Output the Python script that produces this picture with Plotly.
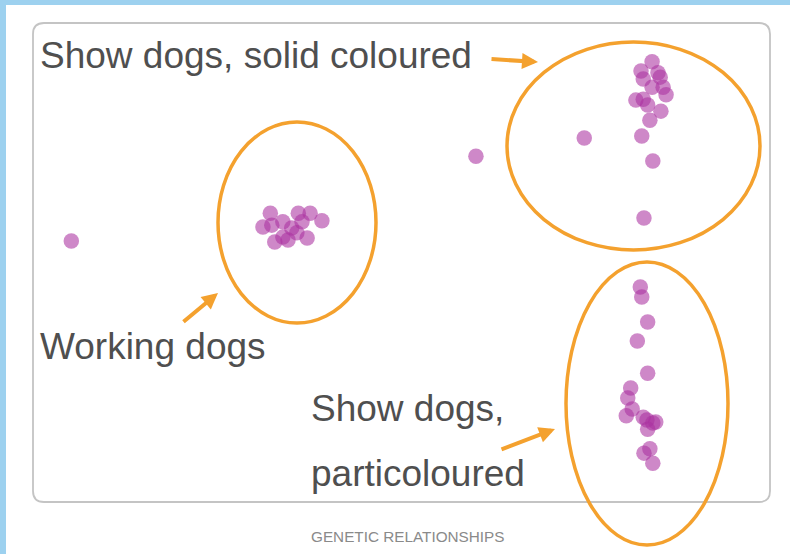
import plotly.graph_objects as go

# positions on the two "genetic" axes, 0-100 inside the framed box
outlier_x = [5.2, 60.1]
outlier_y = [54.5, 72.2]

working_x = [32.2, 31.2, 32.4, 33.9, 36.0, 37.6, 39.2, 36.5, 35.1, 34.6, 33.9, 32.8, 37.2, 35.8]
working_y = [60.3, 57.4, 57.8, 58.5, 60.3, 60.3, 58.7, 58.5, 57.2, 54.7, 55.3, 54.3, 55.1, 56.2]

solid_x = [84.0, 82.5, 84.8, 82.8, 85.1, 84.0, 85.5, 85.9, 81.8, 82.8, 83.4, 85.2, 83.7, 82.6,
           74.8, 84.1, 82.9]
solid_y = [91.9, 90.0, 89.6, 88.3, 88.7, 86.6, 86.6, 85.0, 83.9, 84.1, 82.9, 81.6, 79.7, 76.4,
           76.0, 71.2, 59.3]

parti_x = [82.4, 82.6, 83.4, 82.0, 83.4, 81.1, 80.7, 81.3, 80.5, 82.8, 83.3, 84.5, 84.1, 83.4,
           83.7, 82.9, 84.1]
parti_y = [44.9, 42.8, 37.6, 33.6, 26.9, 23.8, 21.7, 19.4, 18.0, 17.7, 17.1, 16.7, 16.5, 15.2,
           11.1, 10.2, 8.1]

W, H = 790, 554
ORANGE = "#f4a12e"
TEXT = "#4f4f4f"
FONT = "Liberation Sans, Arial, sans-serif"


def px(x, y):
    # pixel position -> paper coordinates
    return x / W, 1 - y / H


def rounded_rect(x0, y0, x1, y1, r):
    pts = []
    a = px(x0 + r, y0); pts.append(f"M{a[0]},{a[1]}")
    a = px(x1 - r, y0); pts.append(f"L{a[0]},{a[1]}")
    c = px(x1, y0); e = px(x1, y0 + r); pts.append(f"Q{c[0]},{c[1]} {e[0]},{e[1]}")
    a = px(x1, y1 - r); pts.append(f"L{a[0]},{a[1]}")
    c = px(x1, y1); e = px(x1 - r, y1); pts.append(f"Q{c[0]},{c[1]} {e[0]},{e[1]}")
    a = px(x0 + r, y1); pts.append(f"L{a[0]},{a[1]}")
    c = px(x0, y1); e = px(x0, y1 - r); pts.append(f"Q{c[0]},{c[1]} {e[0]},{e[1]}")
    a = px(x0, y0 + r); pts.append(f"L{a[0]},{a[1]}")
    c = px(x0, y0); e = px(x0 + r, y0); pts.append(f"Q{c[0]},{c[1]} {e[0]},{e[1]}")
    return " ".join(pts) + " Z"


def ellipse(x0, y0, x1, y1):
    a = px(x0, y1)
    b = px(x1, y0)
    return dict(type="circle", xref="paper", yref="paper",
                x0=a[0], y0=a[1], x1=b[0], y1=b[1],
                line=dict(color=ORANGE, width=3.5), layer="above")


all_x = outlier_x + working_x + solid_x + parti_x
all_y = outlier_y + working_y + solid_y + parti_y

fig = go.Figure()
fig.add_trace(
    go.Scatter(
        x=all_x,
        y=all_y,
        mode="markers",
        marker=dict(size=15.5, color="rgb(170,50,160)", opacity=0.58, line=dict(width=0)),
        hoverinfo="skip",
        showlegend=False,
    )
)

shapes = [
    dict(type="rect", xref="paper", yref="paper", x0=0, x1=1, y0=px(0, 5)[1], y1=1,
         fillcolor="#9dd1ef", line=dict(width=0), layer="below"),
    dict(type="rect", xref="paper", yref="paper", x0=0, x1=px(6, 0)[0], y0=0, y1=1,
         fillcolor="#9dd1ef", line=dict(width=0), layer="below"),
    dict(type="path", xref="paper", yref="paper", path=rounded_rect(33, 23, 770, 502, 11),
         line=dict(color="#c4c4c4", width=1.8), layer="below"),
    ellipse(507, 42, 760, 250),
    ellipse(218, 122, 376, 323),
    ellipse(566, 262, 728, 545),
]

annotations = []
for text, x, y in [
    ("Show dogs, solid coloured", 38, 56),
    ("Working dogs", 38, 346),
    ("Show dogs,", 309, 408),
    ("particoloured", 309, 473),
]:
    p = px(x, y)
    annotations.append(dict(text=text, x=p[0], y=p[1], xref="paper", yref="paper",
                            xanchor="left", yanchor="middle", showarrow=False,
                            font=dict(family=FONT, size=37, color=TEXT)))

for head, tail in [((538, 62), (490, 59)), ((218, 293), (182, 323)), ((555, 429), (500, 450))]:
    p = px(*head)
    annotations.append(dict(text="", x=p[0], y=p[1], xref="paper", yref="paper",
                            ax=tail[0] - head[0], ay=tail[1] - head[1],
                            showarrow=True, arrowhead=2, arrowsize=0.8, arrowwidth=4,
                            arrowcolor=ORANGE))

p = px(408, 536)
annotations.append(dict(text="GENETIC RELATIONSHIPS", x=p[0], y=p[1], xref="paper", yref="paper",
                        xanchor="center", yanchor="middle", showarrow=False,
                        font=dict(family=FONT, size=15.3, color="#8a8a8a")))

fig.update_layout(
    width=W,
    height=H,
    margin=dict(l=0, r=0, t=0, b=0),
    paper_bgcolor="white",
    plot_bgcolor="rgba(0,0,0,0)",
    shapes=shapes,
    annotations=annotations,
    xaxis=dict(domain=[33 / W, 770 / W], range=[0, 100], visible=False, fixedrange=True),
    yaxis=dict(domain=[1 - 502 / H, 1 - 23 / H], range=[0, 100], visible=False, fixedrange=True),
)

# page has a default body margin; drop it so the figure fills the window
fig.write_html("out.html", config={"displayModeBar": False},
               post_script="document.body.style.margin = '0';")
